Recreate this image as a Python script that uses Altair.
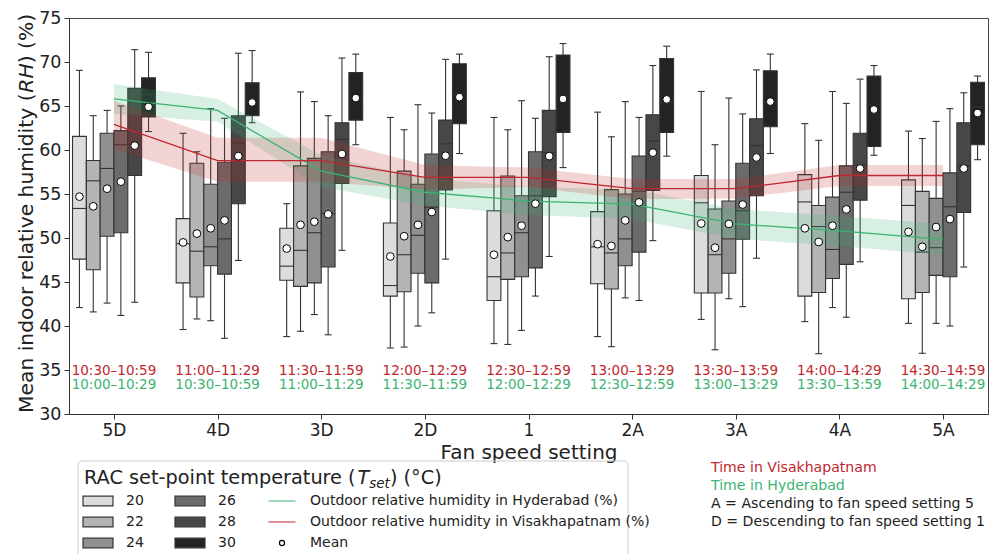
import json
import altair as alt
import pandas as pd

FONT = "DejaVu Sans"

categories = ["5D", "4D", "3D", "2D", "1", "2A", "3A", "4A", "5A"]
setpoints = ["20", "22", "24", "26", "28", "30"]
box_fill = ["#dcdcdc", "#b4b4b4", "#909090", "#6b6b6b", "#474747", "#232323"]

# rows: fan speed setting (5D ... 5A); columns: set-point 20, 22, 24, 26, 28, 30
whisker_low = [
    [42.1, 41.6, 42.6, 41.2, 42.7, 62.1],
    [39.6, 40.8, 40.6, 38.6, 47.45, 63.1],
    [38.8, 39.4, 41.3, 39.0, 48.6, 60.6],
    [37.5, 37.6, 40.0, 41.5, 47.6, 59.6],
    [38.0, 37.9, 39.5, 43.4, 47.9, 58.0],
    [38.8, 37.65, 43.2, 42.9, 49.7, 59.3],
    [40.75, 37.3, 43.1, 42.2, 47.7, 59.6],
    [40.5, 36.85, 42.1, 41.0, 47.3, 59.4],
    [40.3, 36.9, 40.3, 40.0, 46.7, 58.9],
]
q1 = [
    [47.6, 46.4, 50.2, 50.6, 57.1, 63.75],
    [44.9, 43.3, 46.85, 45.9, 53.9, 63.9],
    [45.2, 44.5, 44.9, 46.7, 56.2, 63.4],
    [43.4, 43.9, 46.0, 44.9, 55.45, 63.0],
    [42.9, 45.3, 45.6, 46.6, 54.7, 62.0],
    [44.8, 44.2, 46.85, 48.4, 55.4, 62.0],
    [43.75, 43.75, 46.0, 49.85, 54.8, 62.65],
    [43.4, 43.8, 45.4, 47.0, 54.3, 60.4],
    [43.1, 43.8, 45.75, 45.6, 52.9, 60.6],
]
median = [
    [53.36, 56.5, 57.9, 60.6, 60.6, 66.3],
    [49.35, 48.5, 49.0, 49.9, 60.8, 65.5],
    [46.8, 48.6, 50.6, 52.8, 61.2, 66.0],
    [44.6, 48.1, 50.3, 53.5, 60.7, 66.4],
    [45.6, 48.3, 50.6, 54.8, 59.7, 66.0],
    [49.0, 48.3, 49.9, 55.3, 61.0, 65.45],
    [54.0, 48.1, 49.9, 53.1, 60.5, 65.4],
    [54.1, 51.3, 48.7, 55.2, 58.3, 65.1],
    [53.7, 48.4, 48.9, 53.55, 58.2, 64.9],
]
q3 = [
    [61.55, 58.8, 61.9, 62.2, 67.0, 68.2],
    [52.2, 58.5, 56.1, 58.6, 63.9, 67.65],
    [51.1, 58.2, 59.05, 59.8, 63.1, 68.8],
    [51.7, 57.6, 56.1, 59.55, 63.4, 69.8],
    [53.1, 57.05, 54.8, 59.8, 64.5, 70.8],
    [53.0, 55.5, 55.0, 59.3, 64.0, 70.4],
    [57.1, 53.3, 54.2, 58.5, 63.55, 69.0],
    [57.2, 53.7, 54.65, 58.2, 61.9, 68.4],
    [56.6, 55.3, 54.5, 57.4, 63.1, 67.7],
]
whisker_high = [
    [69.05, 63.9, 64.5, 65.0, 71.4, 71.1],
    [61.9, 59.8, 64.7, 63.6, 71.0, 71.3],
    [53.9, 66.6, 65.5, 63.9, 70.45, 70.9],
    [63.7, 62.3, 65.15, 64.2, 70.3, 70.9],
    [63.7, 62.3, 65.6, 63.6, 70.6, 72.1],
    [64.3, 61.5, 65.5, 63.7, 69.6, 71.8],
    [66.65, 60.6, 65.9, 64.1, 69.1, 70.9],
    [63.0, 61.1, 66.65, 65.3, 68.05, 69.6],
    [62.15, 61.3, 63.25, 64.7, 66.5, 68.4],
]
mean = [
    [54.7, 53.6, 55.6, 56.4, 60.5, 64.9],
    [49.5, 50.5, 51.1, 52.0, 59.3, 65.4],
    [48.8, 51.5, 51.85, 52.7, 59.55, 65.9],
    [47.9, 50.2, 51.5, 52.95, 59.35, 66.0],
    [48.1, 50.1, 51.4, 53.9, 59.3, 65.8],
    [49.3, 49.1, 52.0, 54.05, 59.7, 65.75],
    [51.65, 48.9, 51.6, 53.8, 59.15, 65.5],
    [51.1, 49.55, 51.4, 53.25, 57.9, 64.6],
    [50.7, 49.0, 51.25, 52.15, 57.9, 64.2],
]

# outdoor relative humidity (line) and its band
hyd_rh = [65.8, 64.5, 57.6, 55.2, 54.2, 53.85, 51.6, 50.8, 49.85]
hyd_lo = [64.1, 63.2, 55.8, 53.7, 52.6, 52.2, 49.9, 49.1, 48.1]
hyd_hi = [67.5, 65.8, 59.4, 56.8, 55.8, 55.5, 53.3, 52.5, 51.6]
vis_rh = [62.9, 58.8, 58.8, 56.9, 56.9, 55.6, 55.6, 57.1, 57.1]
vis_lo = [60.1, 56.4, 56.4, 55.5, 55.8, 54.4, 54.5, 55.9, 55.9]
vis_hi = [65.6, 61.4, 61.4, 58.3, 58.0, 56.7, 56.7, 58.3, 58.3]

vis_time = ["10:30–10:59", "11:00–11:29", "11:30–11:59", "12:00–12:29", "12:30–12:59",
             "13:00–13:29", "13:30–13:59", "14:00–14:29", "14:30–14:59"]
hyd_time = ["10:00–10:29", "10:30–10:59", "11:00–11:29", "11:30–11:59", "12:00–12:29",
            "12:30–12:59", "13:00–13:29", "13:30–13:59", "14:00–14:29"]
vis_time_y = 34.92
hyd_time_y = 33.35

RED = "#c0272d"
GREEN = "#3cb371"
EDGE = "#333333"
hyd_label = "Outdoor relative humidity in Hyderabad (%)"
vis_label = "Outdoor relative humidity in Visakhapatnam (%)"

# ---------------- data frames ----------------
BW = 0.8 / len(setpoints)
rows = []
for i, cat in enumerate(categories):
    for k, sp in enumerate(setpoints):
        pos = i + (k - 2.5) * BW
        rows.append(dict(cat=cat, sp=sp, pos=pos, left=pos - BW / 2, right=pos + BW / 2,
                         cap_l=pos - BW / 4, cap_r=pos + BW / 4,
                         wlo=whisker_low[i][k], q1=q1[i][k], med=median[i][k],
                         q3=q3[i][k], whi=whisker_high[i][k], mean=mean[i][k],
                         fill=box_fill[k]))
box_df = pd.DataFrame(rows)

out_rows = []
for i in range(len(categories)):
    out_rows.append(dict(city="Hyderabad", idx=i, rh=hyd_rh[i], lo=hyd_lo[i], hi=hyd_hi[i], color=GREEN))
    out_rows.append(dict(city="Visakhapatnam", idx=i, rh=vis_rh[i], lo=vis_lo[i], hi=vis_hi[i], color=RED))
out_df = pd.DataFrame(out_rows)

time_rows = []
for i in range(len(categories)):
    time_rows.append(dict(idx=i, yv=vis_time_y, label=vis_time[i], color=RED))
    time_rows.append(dict(idx=i, yv=hyd_time_y, label=hyd_time[i], color=GREEN))
time_df = pd.DataFrame(time_rows)

xscale = alt.Scale(domain=[-0.434, len(categories) - 1 + 0.434], nice=False, zero=False)
yscale = alt.Scale(domain=[30, 75], nice=False, zero=False)

xaxis = alt.Axis(values=list(range(len(categories))),
                 labelExpr=json.dumps(categories) + "[datum.value]",
                 title="Fan speed setting", grid=False, tickSize=5, labelPadding=3,
                 labelFontSize=17, titleFontSize=20, titlePadding=4,
                 labelColor="#222", titleColor="#222", domainColor=EDGE, tickColor=EDGE,
                 labelFont=FONT, titleFont=FONT, titleFontWeight="normal")
yaxis = alt.Axis(values=list(range(30, 76, 5)), title=None, grid=False, tickSize=5,
                 labelPadding=3, labelFontSize=17.5, labelColor="#222",
                 domainColor=EDGE, tickColor=EDGE, labelFont=FONT)

base = alt.Chart(box_df)

whiskers = base.mark_rule(color=EDGE, strokeWidth=1.1).encode(
    x=alt.X("pos:Q", scale=xscale, axis=xaxis),
    y=alt.Y("wlo:Q", scale=yscale, axis=yaxis),
    y2="whi:Q")
cap_hi = base.mark_rule(color=EDGE, strokeWidth=1.1).encode(
    x="cap_l:Q", x2="cap_r:Q", y="whi:Q")
cap_lo = base.mark_rule(color=EDGE, strokeWidth=1.1).encode(
    x="cap_l:Q", x2="cap_r:Q", y="wlo:Q")
boxes = base.mark_rect(stroke=EDGE, strokeWidth=1.1).encode(
    x="left:Q", x2="right:Q", y="q1:Q", y2="q3:Q",
    fill=alt.Fill("fill:N", scale=None))
medians = base.mark_rule(color=EDGE, strokeWidth=1.1).encode(
    x="left:Q", x2="right:Q", y="med:Q")

bands = alt.Chart(out_df).mark_area(opacity=0.2).encode(
    x="idx:Q", y="lo:Q", y2="hi:Q",
    fill=alt.Fill("color:N", scale=None), detail="city:N")
lines = alt.Chart(out_df).mark_line(strokeWidth=1.3).encode(
    x="idx:Q", y="rh:Q",
    stroke=alt.Stroke("color:N", scale=None), detail="city:N")

means = base.mark_circle(color="white", stroke="black", strokeWidth=1, size=60, opacity=1).encode(
    x="pos:Q", y="mean:Q")

times = alt.Chart(time_df).mark_text(fontSize=13.5, font=FONT, baseline="middle", align="center").encode(
    x="idx:Q", y="yv:Q", text="label:N", color=alt.Color("color:N", scale=None))

# ---------------- legend (vertical direction: entries fill columns first) ----------------
legend_order = ["20", "22", "24", "26", "28", "30", hyd_label, vis_label, "Mean"]
rect_path = "M-1,-0.32H1V0.32H-1Z"
line_path = "M-0.9,0H0.9"
dot_path = "M0.17,0A0.17,0.17,0,1,1,-0.17,0A0.17,0.17,0,1,1,0.17,0Z"
legend_shapes = [rect_path] * 6 + [line_path, line_path, dot_path]
legend_fills = box_fill + ["transparent", "transparent", "white"]
legend_strokes = [EDGE] * 6 + [GREEN, RED, "black"]

leg = alt.Legend(title=None, orient="none", legendX=13, legendY=472.5, columns=3,
                 columnPadding=30, rowPadding=0, symbolSize=900, clipHeight=21,
                 labelOffset=12, labelFontSize=14, labelFont=FONT, labelColor="#222",
                 symbolOpacity=1, symbolStrokeWidth=1.2, padding=0, labelLimit=500)
legend_df = pd.DataFrame({"lg": legend_order})
legend_layer = alt.Chart(legend_df).mark_point(opacity=0, filled=True).encode(
    x=alt.value(0), y=alt.value(0),
    shape=alt.Shape("lg:N", scale=alt.Scale(domain=legend_order, range=legend_shapes), legend=leg),
    fill=alt.Fill("lg:N", scale=alt.Scale(domain=legend_order, range=legend_fills), legend=leg),
    stroke=alt.Stroke("lg:N", scale=alt.Scale(domain=legend_order, range=legend_strokes), legend=leg),
)

one = pd.DataFrame({"a": [0]})
frame = alt.Chart(one).mark_rect(fillOpacity=0, stroke="#cccccc", strokeWidth=1, cornerRadius=4).encode(
    x=alt.value(9), x2=alt.value(559), y=alt.value(443), y2=alt.value(640))


def txt(s, x, y, size, color="#222", style="normal", angle=0, align="left", baseline="alphabetic"):
    return alt.Chart(one).mark_text(text=s, fontSize=size, font=FONT, fontStyle=style, color=color,
                                    angle=angle, align=align, baseline=baseline).encode(
        x=alt.value(x), y=alt.value(y))


# legend title: RAC set-point temperature (T_set) (°C)
LT = 19.3
lt1 = "RAC set-point temperature ("
lx = 15
ly = 466
w1 = 14.168 * LT
legend_title = [
    txt(lt1, lx, ly, LT),
    txt("T", lx + w1, ly, LT, style="italic"),
    txt("set", lx + w1 + 0.611 * LT, ly + 4, LT * 0.7, style="italic"),
    txt(") (°C)", lx + w1 + 0.611 * LT + 1.528 * LT * 0.7, ly, LT),
]

# y-axis title with italic RH
YT = 20.3
yx = -36
y0 = 395
p1 = "Mean indoor relative humidity ("
w_p1 = 15.78 * YT
w_rh = 1.446 * YT
ytitle = [
    txt(p1, yx, y0, YT, angle=270),
    txt("RH", yx, y0 - w_p1, YT, style="italic", angle=270),
    txt(") (%)", yx, y0 - w_p1 - w_rh, YT, angle=270),
]

NOTE = 14.1
notes = [
    txt("Time in Visakhapatnam", 642, 450, NOTE, color=RED, baseline="middle"),
    txt("Time in Hyderabad", 642, 468, NOTE, color=GREEN, baseline="middle"),
    txt("A = Ascending to fan speed setting 5", 642, 486, NOTE, baseline="middle"),
    txt("D = Descending to fan speed setting 1", 642, 504, NOTE, baseline="middle"),
]

chart = alt.layer(
    whiskers, cap_hi, cap_lo, boxes, medians, bands, lines, means, times,
    frame, legend_layer, *legend_title, *ytitle, *notes
).properties(
    width=919, height=396,
    padding={"left": 61, "top": 10, "right": 1, "bottom": 140},
    autosize=alt.AutoSizeParams(type="none"),
).configure(font=FONT).configure_view(stroke="#444", strokeWidth=1)

chart.save("out.html", embed_options={"renderer": "svg", "actions": False})
